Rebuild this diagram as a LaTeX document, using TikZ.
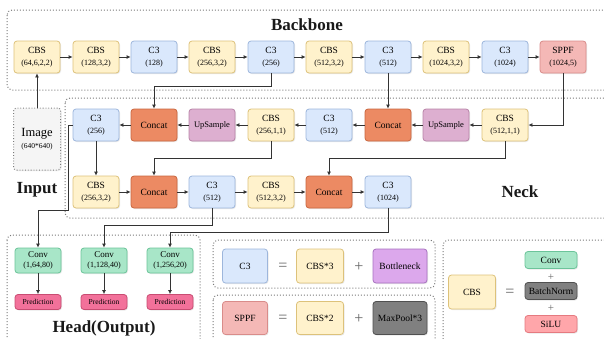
\documentclass[tikz,border=0pt]{standalone}
\usepackage{fontspec}
\setmainfont{Liberation Serif}
\usetikzlibrary{arrows.meta,shadows}
\definecolor{cbsF}{HTML}{FFF2CC}\definecolor{cbsD}{HTML}{DDC27A}
\definecolor{c3F}{HTML}{DAE8FC}\definecolor{c3D}{HTML}{9DB6DC}
\definecolor{spF}{HTML}{F4B8B6}\definecolor{spD}{HTML}{D98C8A}
\definecolor{catF}{HTML}{EC8A63}\definecolor{catD}{HTML}{C9673F}
\definecolor{upF}{HTML}{DDAFD0}\definecolor{upD}{HTML}{B884A8}
\definecolor{cvF}{HTML}{A8E6C8}\definecolor{cvD}{HTML}{6CC49A}
\definecolor{prF}{HTML}{F2719A}\definecolor{prD}{HTML}{C84C72}
\definecolor{btF}{HTML}{DCA8EC}\definecolor{btD}{HTML}{A872C0}
\definecolor{mpF}{HTML}{808080}\definecolor{mpD}{HTML}{505050}
\definecolor{slF}{HTML}{FFA6AA}\definecolor{slD}{HTML}{E57A80}
\definecolor{lineC}{HTML}{333333}
\definecolor{frameC}{HTML}{7A7A7A}
\newcommand{\twoline}[2]{{\fontsize{9.5}{12}\selectfont #1}\\{\fontsize{8}{9}\selectfont #2}}
\begin{document}
\begin{tikzpicture}[x=1pt,y=-1pt,
  box/.style={rounded corners=3pt, line width=0.8pt, minimum width=46pt, minimum height=32pt,
     inner sep=1pt, align=center, font=\fontsize{9.5}{12}\selectfont,
     drop shadow={opacity=0.18, shadow xshift=1pt, shadow yshift=-1pt}},
  cbs/.style={box, fill=cbsF, draw=cbsD},
  cthree/.style={box, fill=c3F, draw=c3D},
  sppf/.style={box, fill=spF, draw=spD},
  concat/.style={box, fill=catF, draw=catD},
  upsmp/.style={box, fill=upF, draw=upD, font=\fontsize{8.5}{9}\selectfont},
  conv/.style={box, fill=cvF, draw=cvD, minimum height=25pt, font=\fontsize{9}{10}\selectfont},
  pred/.style={box, fill=prF, draw=prD, minimum height=15pt, font=\fontsize{7.5}{8}\selectfont},
  frame/.style={draw=frameC, dotted, line width=1pt, rounded corners=5pt},
  title/.style={font=\fontsize{17}{20}\selectfont\bfseries, text=black!90},
  arr/.style={draw=lineC, line width=0.9pt, -{Latex[length=4pt,width=4pt]}},
  sym/.style={font=\fontsize{16}{16}\selectfont, text=black!60}
]
\useasboundingbox (0,0) rectangle (604,338);
\clip (0,0) rectangle (604,338);

% frames
\draw[frame] (7,10) rectangle (615,90);
\draw[frame] (65,98) rectangle (615,218);
\draw[frame] (7,235) rectangle (200,350);
\draw[frame] (213,240) rectangle (435,288);
\draw[frame] (213,295) rectangle (435,350);
\draw[frame] (443,240) rectangle (615,350);

% titles
\node[title] (tB) at (307,25) {Backbone};
\node[title] (tI) at (37,190) {Input};
\node[title] (tN) at (520,192) {Neck};
\node[title] (tH) at (104,328) {Head(Output)};

% backbone
\node[cbs] (b1) at (37,57) {\twoline{CBS}{(64,6,2,2)}};
\node[cbs] (b2) at (96,57) {\twoline{CBS}{(128,3,2)}};
\node[cthree] (b3) at (154,57) {\twoline{C3}{(128)}};
\node[cbs] (b4) at (212,57) {\twoline{CBS}{(256,3,2)}};
\node[cthree] (b5) at (271,57) {\twoline{C3}{(256)}};
\node[cbs] (b6) at (329,57) {\twoline{CBS}{(512,3,2)}};
\node[cthree] (b7) at (388,57) {\twoline{C3}{(512)}};
\node[cbs] (b8) at (446,57) {\twoline{CBS}{(1024,3,2)}};
\node[cthree] (b9) at (505,57) {\twoline{C3}{(1024)}};
\node[sppf] (b10) at (563,57) {\twoline{SPPF}{(1024,5)}};

% input image
\node[box, draw=frameC, dotted, line width=1pt, fill=black!4, minimum width=47pt, minimum height=62pt] (img) at (37,139)
  {{\fontsize{12.5}{16}\selectfont Image}\\{\fontsize{7.5}{9}\selectfont (640*640)}};

% neck row 1
\node[cthree] (n1) at (96,125) {\twoline{C3}{(256)}};
\node[concat] (n2) at (154,125) {Concat};
\node[upsmp] (n3) at (212,125) {UpSample};
\node[cbs] (n4) at (271,125) {\twoline{CBS}{(256,1,1)}};
\node[cthree] (n5) at (329,125) {\twoline{C3}{(512)}};
\node[concat] (n6) at (388,125) {Concat};
\node[upsmp] (n7) at (446,125) {UpSample};
\node[cbs] (n8) at (505,125) {\twoline{CBS}{(512,1,1)}};

% neck row 2
\node[cbs] (m1) at (96,192) {\twoline{CBS}{(256,3,2)}};
\node[concat] (m2) at (154,192) {Concat};
\node[cthree] (m3) at (212,192) {\twoline{C3}{(512)}};
\node[cbs] (m4) at (271,192) {\twoline{CBS}{(512,3,2)}};
\node[concat] (m5) at (329,192) {Concat};
\node[cthree] (m6) at (388,192) {\twoline{C3}{(1024)}};

% head
\node[conv] (c1) at (38,260.5) {Conv\\{\fontsize{8}{9}\selectfont(1,64,80)}};
\node[conv] (c2) at (104,260.5) {Conv\\{\fontsize{8}{9}\selectfont(1,128,40)}};
\node[conv] (c3) at (170,260.5) {Conv\\{\fontsize{8}{9}\selectfont(1,256,20)}};
\node[pred] (p1) at (38,302) {Prediction};
\node[pred] (p2) at (104,302) {Prediction};
\node[pred] (p3) at (170,302) {Prediction};

% legend C3
\node[cthree, minimum width=45pt, minimum height=34pt] (lc3) at (245,266) {C3};
\node[sym] (eq1) at (283,267) {=};
\node[cbs, minimum width=47pt, minimum height=34pt] (lcbs3) at (320,266) {CBS*3};
\node[sym] (pl1) at (359,267) {+};
\node[box, fill=btF, draw=btD, minimum width=54pt, minimum height=34pt] (lbt) at (400,266) {Bottleneck};

% legend SPPF
\node[sppf, minimum width=45pt, minimum height=33pt] (lsp) at (245,318) {SPPF};
\node[sym] (eq2) at (283,319) {=};
\node[cbs, minimum width=47pt, minimum height=33pt] (lcbs2) at (320,318) {CBS*2};
\node[sym] (pl2) at (359,319) {+};
\node[box, fill=mpF, draw=mpD, minimum width=54pt, minimum height=33pt] (lmp) at (400,318) {MaxPool*3};

% legend CBS
\node[cbs, minimum width=47pt, minimum height=34pt] (lcbs) at (472,292) {CBS};
\node[sym] (eq3) at (510,293) {=};
\node[box, fill=cvF, draw=cvD, minimum width=52pt, minimum height=17pt] (lconv) at (551,260) {Conv};
\node[sym, font=\fontsize{11}{11}\selectfont] (pl3) at (551,277) {+};
\node[box, fill=mpF, draw=mpD, minimum width=52pt, minimum height=17pt] (lbn) at (551,291) {BatchNorm};
\node[sym, font=\fontsize{11}{11}\selectfont] (pl4) at (551,308) {+};
\node[box, fill=slF, draw=slD, minimum width=52pt, minimum height=17pt] (lsl) at (551,324) {SiLU};

% backbone arrows
\foreach \a/\b in {b1/b2,b2/b3,b3/b4,b4/b5,b5/b6,b6/b7,b7/b8,b8/b9,b9/b10}
  \draw[arr] (\a) -- (\b);
\draw[arr] (img) -- (b1);

% backbone -> neck
\coordinate (k1) at (154,86);
\draw[arr] (b5.south) |- (k1) -- (n2.north);
\draw[arr] (b7) -- (n6);
\draw[arr] (b10.south) |- (n8.east);

% neck row 1
\foreach \a/\b in {n8/n7,n7/n6,n6/n5,n5/n4,n4/n3,n3/n2,n2/n1}
  \draw[arr] (\a) -- (\b);
\draw[arr] (n1) -- (m1);
\coordinate (k2) at (154,158);
\draw[arr] (n4.south) |- (k2) -- (m2.north);
\coordinate (k3) at (329,158);
\draw[arr] (n8.south) |- (k3) -- (m5.north);

% neck row 2
\foreach \a/\b in {m1/m2,m2/m3,m3/m4,m4/m5,m5/m6}
  \draw[arr] (\a) -- (\b);

% to head
\coordinate (h1a) at (68,125);
\coordinate (h1b) at (68,210);
\coordinate (h1c) at (38,210);
\draw[arr] (n1.west) -- (h1a) -- (h1b) -- (h1c) -- (c1.north);
\coordinate (h2) at (104,225);
\draw[arr] (m3.south) |- (h2) -- (c2.north);
\coordinate (h3) at (170,232);
\draw[arr] (m6.south) |- (h3) -- (c3.north);

\draw[arr] (c1) -- (p1);
\draw[arr] (c2) -- (p2);
\draw[arr] (c3) -- (p3);
\end{tikzpicture}
\end{document}
